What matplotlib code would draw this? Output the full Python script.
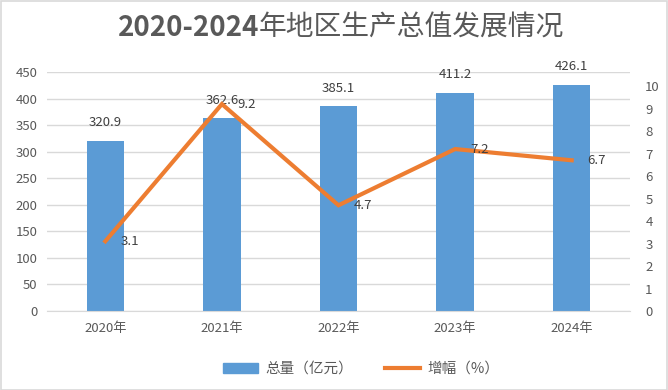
import matplotlib
matplotlib.use("Agg")
import matplotlib.pyplot as plt
from matplotlib.patches import Rectangle

plt.rcParams['font.family'] = ['Noto Sans CJK SC', 'DejaVu Sans']

years = ["2020年", "2021年", "2022年", "2023年", "2024年"]
totals = [320.9, 362.6, 385.1, 411.2, 426.1]
growth = [3.1, 9.2, 4.7, 7.2, 6.7]
left_ticks = [0, 50, 100, 150, 200, 250, 300, 350, 400, 450]
right_ticks = [0, 1, 2, 3, 4, 5, 6, 7, 8, 9, 10]
title_a = "2020-2024"
title_b = "年地区生产总值发展情况"

W, H = 668, 390
fig = plt.figure(figsize=(W / 100, H / 100), dpi=100)
fig.patch.set_facecolor('white')
fig.add_artist(Rectangle((0.5 / W, 0.5 / H), 1 - 1.5 / W, 1 - 1.5 / H,
                         transform=fig.transFigure, fill=False,
                         edgecolor='#d9d9d9', linewidth=1.2))

left, right_px, top, bottom = 47, 630, 72, 311
ax = fig.add_axes([left / W, 1 - bottom / H, (right_px - left) / W, (bottom - top) / H])
ax2 = ax.twinx()

bar_color = '#5b9bd5'
line_color = '#ed7d31'
text_color = '#595959'

x = list(range(len(years)))
ax.bar(x, totals, width=0.32, color=bar_color, zorder=2)
ax.set_ylim(0, 450)
ax.set_xlim(-0.5, len(years) - 0.5)
ax.set_yticks(left_ticks)
ax.grid(axis='y', color='#d9d9d9', linewidth=1, zorder=0)
ax.set_axisbelow(True)
ax.set_xticks(x)
ax.set_xticklabels(years)
for s in ax.spines.values():
    s.set_visible(False)
ax.spines['bottom'].set_visible(True)
ax.spines['bottom'].set_color('#d9d9d9')
ax.tick_params(axis='both', length=0, labelsize=9.5, colors=text_color, pad=7)
ax.tick_params(axis='x', pad=8)

for xi, v in zip(x, totals):
    ax.annotate(f"{v:.1f}", (xi, v), xytext=(0, 13), textcoords='offset points',
                ha='center', va='center', fontsize=9.5, color='#404040')

ax2.plot(x, growth, color=line_color, linewidth=3, zorder=3, solid_joinstyle='miter')
ax2.set_ylim(0, 10.625)
ax2.set_yticks(right_ticks)
for s in ax2.spines.values():
    s.set_visible(False)
ax2.tick_params(axis='y', length=0, labelsize=9.5, colors=text_color, pad=11)
for xi, v in zip(x, growth):
    ax2.annotate(f"{v:.1f}", (xi, v), xytext=(11, 0), textcoords='offset points',
                 ha='left', va='center', fontsize=9.5, color='#404040')

# Title: bold Latin part, regular CJK part, centred together
ty = 1 - 28 / H
ta = fig.text(0, ty, title_a, ha='left', va='center', fontsize=20,
              fontweight='bold', color=text_color)
tb = fig.text(0, ty, title_b, ha='left', va='center', fontsize=20,
              fontweight='normal', color=text_color)
fig.canvas.draw()
r = fig.canvas.get_renderer()
wa = ta.get_window_extent(r).width
wb = tb.get_window_extent(r).width
cx = 341
start = cx - (wa + wb) / 2
ta.set_x(start / W)
tb.set_x((start + wa) / W)

handles = [Rectangle((0, 0), 1, 1, color=bar_color),
           plt.Line2D([0], [0], color=line_color, linewidth=3)]
fig.legend(handles, ["总量（亿元）", "增幅（%）"], loc='center',
           bbox_to_anchor=(361 / W, 1 - 369 / H), ncol=2, frameon=False,
           fontsize=10.5, labelcolor=text_color, handlelength=2.4,
           handletextpad=0.5, columnspacing=2.2)

fig.savefig("out.png", dpi=100)
